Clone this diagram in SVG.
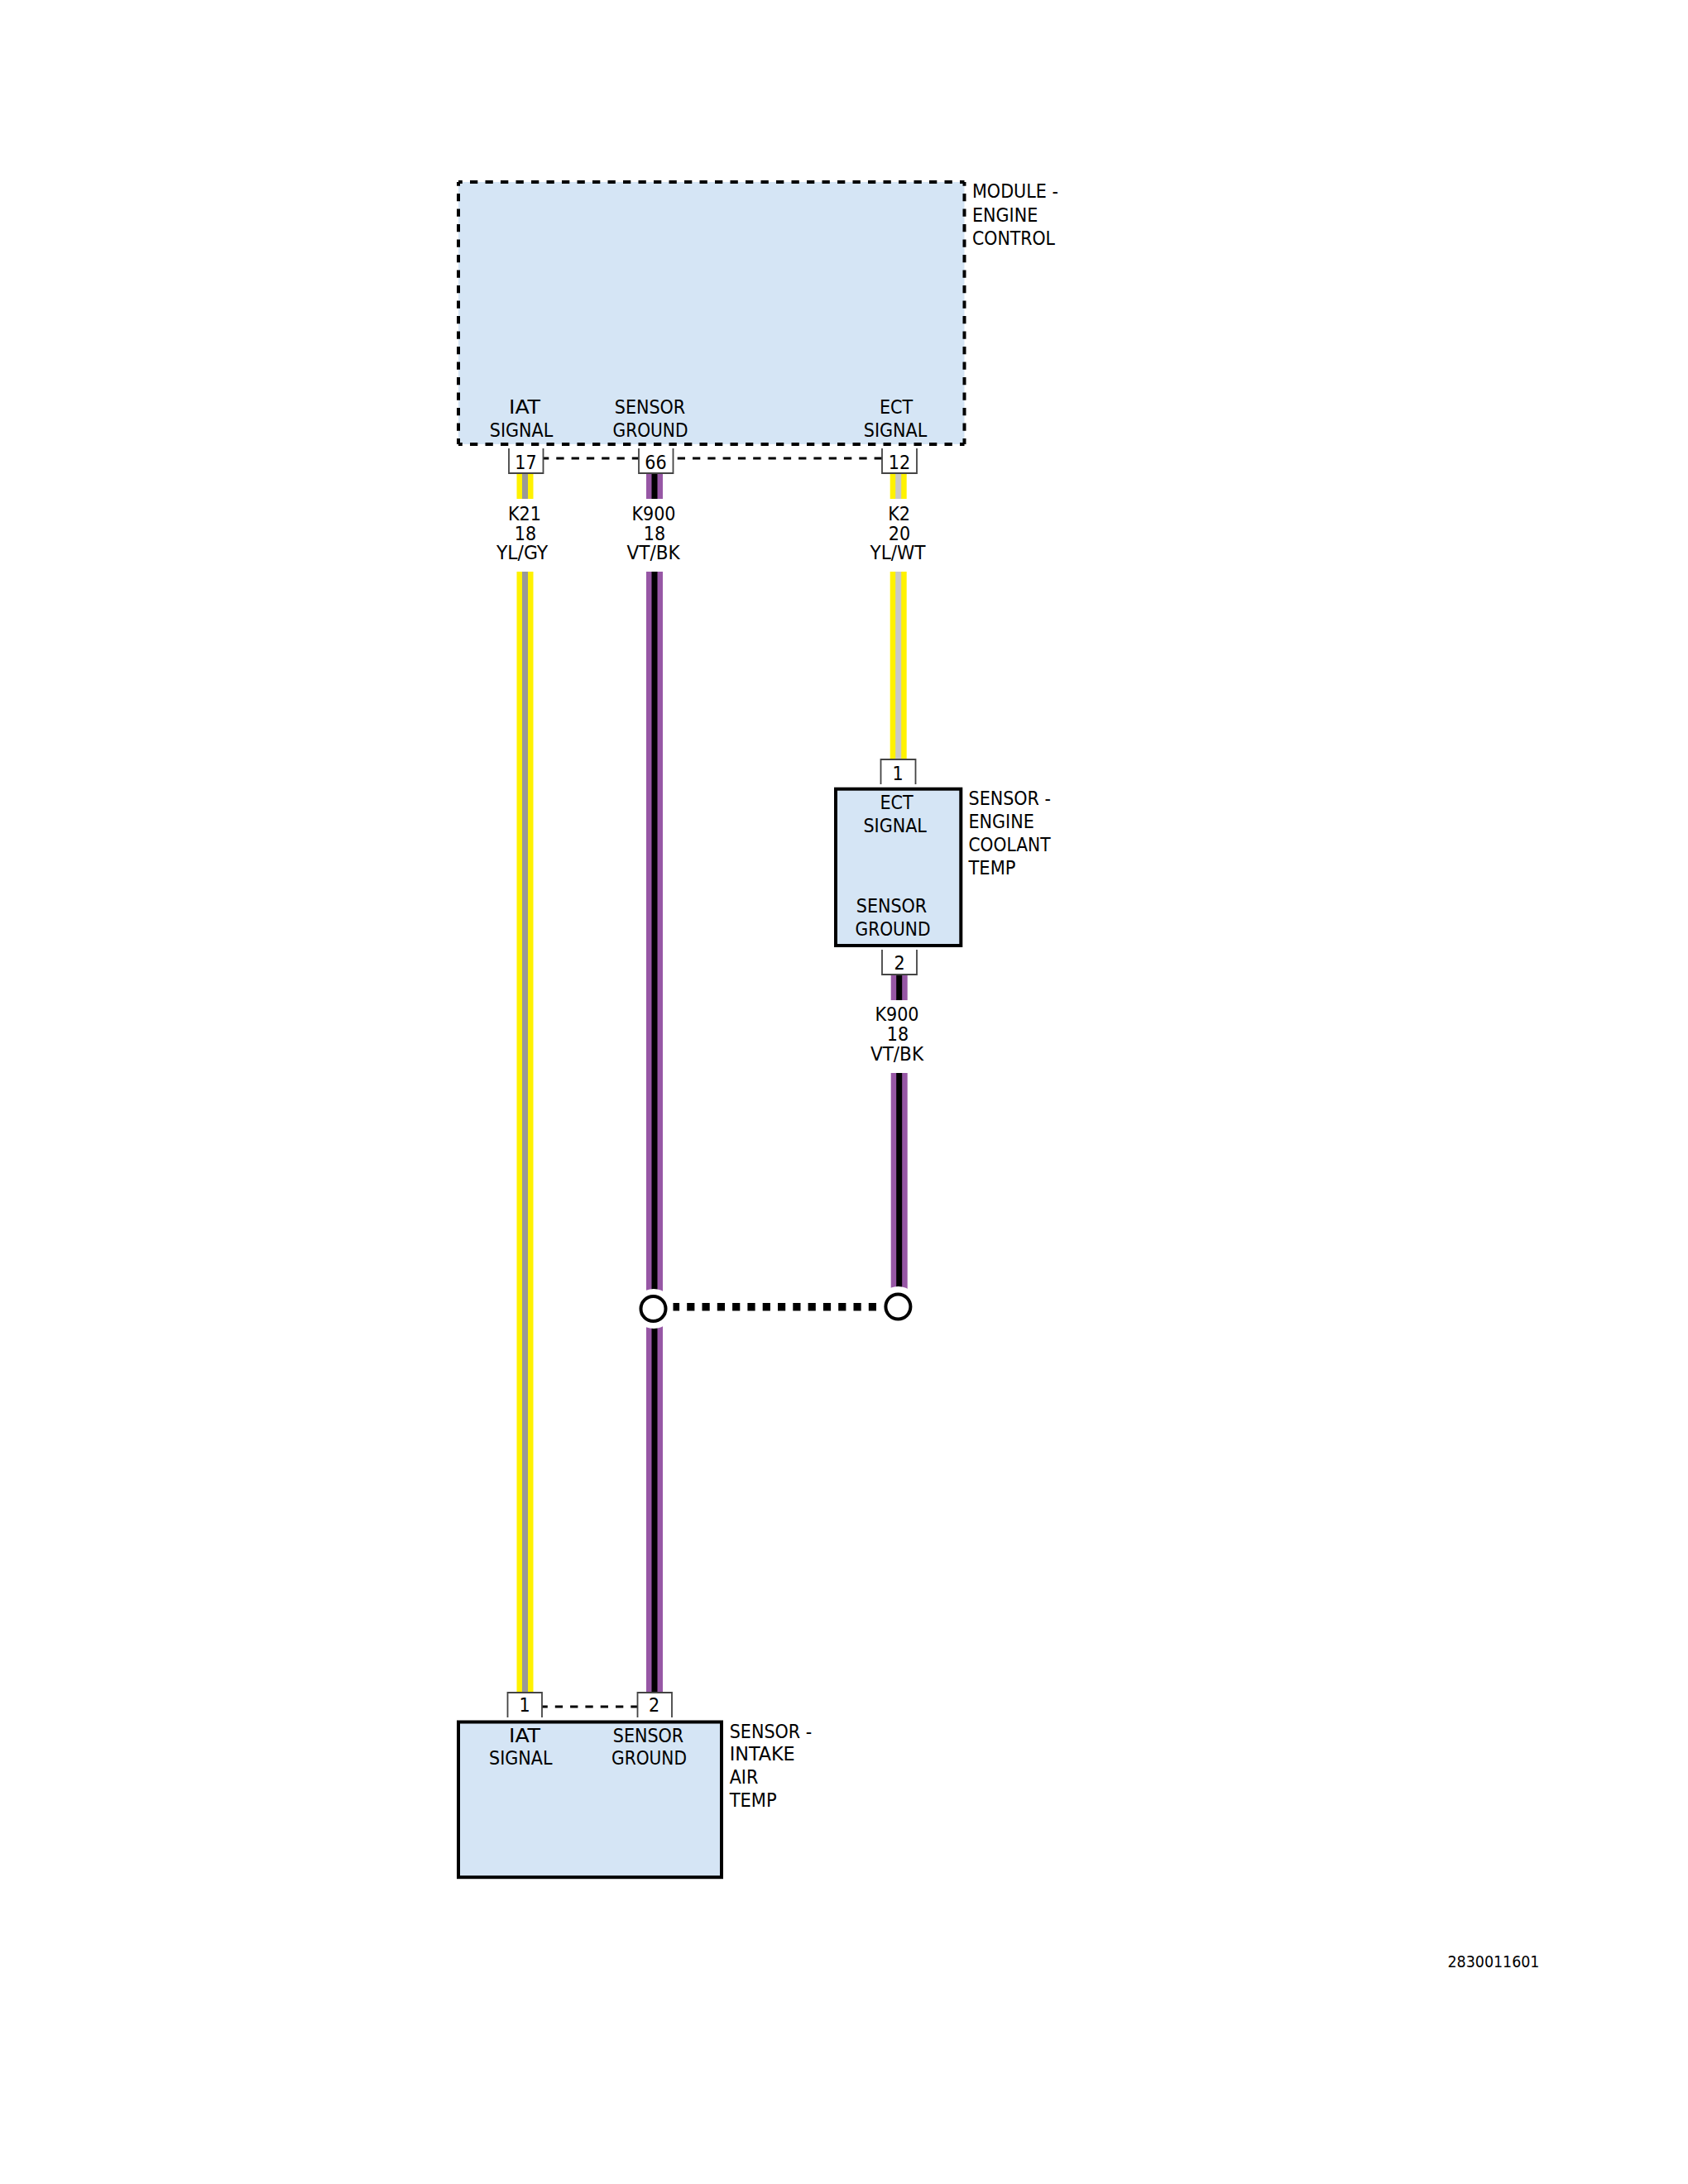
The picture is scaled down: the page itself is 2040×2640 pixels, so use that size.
<svg xmlns="http://www.w3.org/2000/svg" width="2040" height="2640" viewBox="0 0 2040 2640">
<style>
text{font-family:"DejaVu Sans Condensed","DejaVu Sans",sans-serif;font-size:23px;fill:#000}
.m{text-anchor:middle}
.fill{fill:#d5e5f5;stroke:none}
.box{fill:#d5e5f5;stroke:#000;stroke-width:4}
.dash{stroke:#000;stroke-width:4;fill:none;stroke-dasharray:9.3 9.2;stroke-dashoffset:4.5}
.pin{fill:#fff;stroke:#444;stroke-width:1.8}
.ln{stroke:#000;stroke-width:3.2;stroke-dasharray:9.3 9;fill:none}
.yl{stroke:#fff200;stroke-width:20;fill:none}
.vt{stroke:#9757a5;stroke-width:20;fill:none}
.gy{stroke:#999;stroke-width:7;fill:none}
.wt{stroke:#c8c8c8;stroke-width:7;fill:none}
.bk{stroke:#000;stroke-width:7;fill:none}
.halo{fill:#fff;stroke:none}
.ring{fill:#fff;stroke:#000;stroke-width:4}
</style>
<rect width="2040" height="2640" fill="#fff"/>
<g id="connectors">
<path class="yl" d="M634.5 572V603M634.5 691V2046"/><path class="gy" d="M634.5 572V603M634.5 691V2046"/>
<path class="vt" d="M791 572V603M791 691V2046"/><path class="bk" d="M791 572V603M791 691V2046"/>
<path class="yl" d="M1085.7 572V603M1085.7 691V917"/><path class="wt" d="M1085.7 572V603M1085.7 691V917"/>
<path class="vt" d="M1086.7 1178V1209M1086.7 1297V1560"/><path class="bk" d="M1086.7 1178V1209M1086.7 1297V1560"/>
<circle class="halo" cx="790" cy="1582" r="24"/><circle class="halo" cx="1085.5" cy="1579" r="24"/>
<path d="M1059 1579.7H813.5" stroke="#000" stroke-width="9.5" stroke-dasharray="9.2 9.1" fill="none"/>
<path class="ln" d="M656 554H1066" stroke-dashoffset="2"/>
<path class="ln" d="M654 2063H771" stroke-dashoffset="1.5"/>
</g>
<g id="module-engine-control">
<rect class="fill" x="554" y="220" width="611.5" height="317"/>
<path class="dash" d="M554 220H1165.5M554 220V537M1165.5 220V537M554 537H1165.5"/>
<text class="m" x="634" y="500" textLength="38" lengthAdjust="spacingAndGlyphs">IAT</text><text class="m" x="630" y="528">SIGNAL</text>
<text class="m" x="785.5" y="500">SENSOR</text><text class="m" x="786" y="528" textLength="91" lengthAdjust="spacingAndGlyphs">GROUND</text>
<text class="m" x="1083" y="500">ECT</text><text class="m" x="1082" y="528">SIGNAL</text>
<text x="1175" y="239">MODULE -</text><text x="1175" y="267.7">ENGINE</text><text x="1175" y="295.7" textLength="100" lengthAdjust="spacingAndGlyphs">CONTROL</text>
</g>
<g id="pin-17"><path class="pin" d="M615 542V572H656.5V542"/><text class="m" x="635.5" y="566.7">17</text></g>
<g id="pin-66"><path class="pin" d="M772 542V572H813.5V542"/><text class="m" x="792.5" y="566.7">66</text></g>
<g id="pin-12"><path class="pin" d="M1066 542V572H1108V542"/><text class="m" x="1087" y="566.7">12</text></g>
<g id="wire-k21"><text class="m" x="634" y="629">K21</text><text class="m" x="635" y="652.7">18</text><text class="m" x="631" y="676" textLength="62" lengthAdjust="spacingAndGlyphs">YL/GY</text></g>
<g id="wire-k900-a"><text class="m" x="790" y="629">K900</text><text class="m" x="791" y="652.7">18</text><text class="m" x="789.6" y="676" textLength="64" lengthAdjust="spacingAndGlyphs">VT/BK</text></g>
<g id="wire-k2"><text class="m" x="1086.6" y="629">K2</text><text class="m" x="1087" y="652.7">20</text><text class="m" x="1085" y="676" textLength="67" lengthAdjust="spacingAndGlyphs">YL/WT</text></g>
<g id="sensor-engine-coolant-temp">
<rect class="box" x="1010" y="953.7" width="151.3" height="189.3"/>
<text class="m" x="1083.5" y="978">ECT</text><text class="m" x="1081.7" y="1006">SIGNAL</text>
<text class="m" x="1077.5" y="1103">SENSOR</text><text class="m" x="1079" y="1131" textLength="91" lengthAdjust="spacingAndGlyphs">GROUND</text>
<text x="1170.5" y="973">SENSOR -</text><text x="1170.5" y="1001">ENGINE</text><text x="1170.5" y="1029" textLength="99" lengthAdjust="spacingAndGlyphs">COOLANT</text><text x="1170.5" y="1057" textLength="57" lengthAdjust="spacingAndGlyphs">TEMP</text>
</g>
<g id="pin-ect-1"><path class="pin" d="M1064.5 948V918H1106.5V948"/><text class="m" x="1085" y="942.7">1</text></g>
<g id="pin-ect-2"><path class="pin" d="M1066 1148V1178H1108V1148"/><text class="m" x="1087" y="1172.3">2</text></g>
<g id="wire-k900-b"><text class="m" x="1084" y="1234">K900</text><text class="m" x="1085" y="1258">18</text><text class="m" x="1084" y="1281.7" textLength="64" lengthAdjust="spacingAndGlyphs">VT/BK</text></g>
<g id="splice-left"><circle class="ring" cx="789.5" cy="1582" r="15"/></g>
<g id="splice-right"><circle class="ring" cx="1085.4" cy="1579.5" r="15"/></g>
<g id="sensor-intake-air-temp">
<rect class="box" x="554" y="2081.5" width="318" height="187.7"/>
<text class="m" x="634" y="2106" textLength="38" lengthAdjust="spacingAndGlyphs">IAT</text><text class="m" x="629.3" y="2133.3">SIGNAL</text>
<text class="m" x="783.5" y="2106">SENSOR</text><text class="m" x="784.5" y="2133.3" textLength="91" lengthAdjust="spacingAndGlyphs">GROUND</text>
<text x="881.7" y="2100.7">SENSOR -</text><text x="881.7" y="2128" textLength="79" lengthAdjust="spacingAndGlyphs">INTAKE</text><text x="881.7" y="2156">AIR</text><text x="881.7" y="2184" textLength="57" lengthAdjust="spacingAndGlyphs">TEMP</text>
</g>
<g id="pin-iat-1"><path class="pin" d="M613.5 2076V2046H655V2076"/><text class="m" x="634" y="2069.3">1</text></g>
<g id="pin-iat-2"><path class="pin" d="M770.5 2076V2046H812V2076"/><text class="m" x="790.5" y="2069.3">2</text></g>
<text x="1749.5" y="2378" style="font-size:19.4px">2830011601</text>
</svg>
